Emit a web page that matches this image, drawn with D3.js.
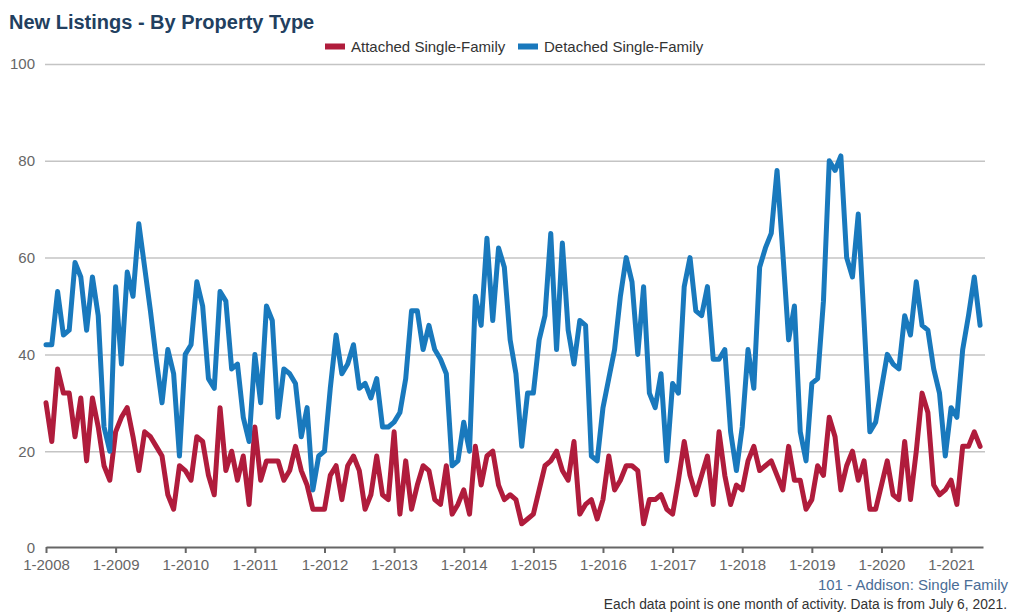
<!DOCTYPE html>
<html lang="en">
<head>
<meta charset="utf-8">
<title>New Listings - By Property Type</title>
<script src="https://d3js.org/d3.v7.min.js"></script>
<style>
body { margin: 0; background: #fff; }
text { font-family: Arial, "Liberation Sans", sans-serif; }
</style>
</head>
<body>
<script>

// monthly values, 1-2008 .. 6-2021
var attached = [
  30,22,37,32,32,23,31,18,31,25,17,14,
  24,27,29,23,16,24,23,21,19,11,8,17,
  16,14,23,22,15,11,29,16,20,14,19,9,
  25,14,18,18,18,14,16,21,16,13,8,8,
  8,15,17,10,17,19,16,8,11,19,11,10,
  24,7,18,8,13,17,16,10,9,17,7,9,
  12,7,21,13,19,20,13,10,11,10,5,6,
  7,12,17,18,20,16,14,22,7,9,10,6,
  10,19,12,14,17,17,16,5,10,10,11,8,
  7,14,22,15,11,15,19,9,24,15,9,13,
  12,18,21,16,17,18,15,12,21,14,14,8,
  10,17,15,27,23,12,17,20,14,18,8,8,
  13,18,11,10,22,10,20,32,28,13,11,12,
  14,9,21,21,24,21
];
var detached = [
  42,42,53,44,45,59,56,45,56,48,25,20,
  54,38,57,52,67,58,49,39,30,41,36,19,
  40,42,55,50,35,33,53,51,37,38,27,22,
  40,30,50,47,27,37,36,34,23,29,12,19,
  20,33,44,36,38,42,33,34,31,35,25,25,
  26,28,35,49,49,41,46,41,39,36,17,18,
  26,20,52,46,64,47,62,58,43,36,21,32,
  32,43,48,65,41,63,45,38,47,46,19,18,
  29,35,41,52,60,55,40,54,32,29,36,18,
  34,32,54,60,49,48,54,39,39,41,24,16,
  25,41,33,58,62,65,78,61,43,50,24,18,
  34,35,51,80,78,81,60,56,69,47,24,26,
  33,40,38,37,48,44,55,46,45,37,32,19,
  29,27,41,48,56,46
];
var tickLabels = ["1-2008","1-2009","1-2010","1-2011","1-2012","1-2013","1-2014",
  "1-2015","1-2016","1-2017","1-2018","1-2019","1-2020","1-2021"];
var yTicks = [0, 20, 40, 60, 80, 100];
var seriesNames = ["Attached Single-Family", "Detached Single-Family"];
var seriesColors = ["#b01c3c", "#1979bd"];

var svg = d3.select("body").append("svg")
  .attr("width", 1014)
  .attr("height", 614)

var x = d3.scaleLinear().domain([0, 161.5]).range([46, 983]);
var y = d3.scaleLinear().domain([0, 100]).range([548, 64]);

/* title */
svg.append("text")
  .attr("x", 9).attr("y", 29)
  .attr("font-size", 20).attr("font-weight", "bold")
  .attr("fill", "#223f5f")
  .text("New Listings - By Property Type");

/* legend */
var legX = [325, 518];
var leg = svg.selectAll("g.leg").data(seriesNames).enter()
  .append("g").attr("class", "leg")
  .attr("transform", function(d, i) { return "translate(" + legX[i] + ",0)"; });
leg.append("rect")
  .attr("x", 0).attr("y", 43.5).attr("width", 20).attr("height", 6)
  .attr("fill", function(d, i) { return seriesColors[i]; });
leg.append("text")
  .attr("x", 26).attr("y", 52)
  .attr("font-size", 15).attr("fill", "#333")
  .text(function(d) { return d; });

/* y grid + labels */
var yAxis = svg.append("g")
  .attr("transform", "translate(45,0)")
  .call(d3.axisLeft(y).tickValues(yTicks).tickSize(-940).tickPadding(10));
yAxis.select(".domain").remove();
yAxis.selectAll(".tick line")
  .attr("stroke", "#c4c4c4").attr("stroke-width", 1.5)
  .filter(function(d) { return d == 0; }).remove();
yAxis.selectAll(".tick text")
  .attr("font-size", 15).attr("fill", "#666")
  .attr("font-family", "Arial, 'Liberation Sans', sans-serif");

/* x axis */
var xAxis = svg.append("g")
  .attr("transform", "translate(0,547)")
  .call(d3.axisBottom(x)
    .tickValues(tickLabels.map(function(d, i) { return i * 12; }))
    .tickFormat(function(d, i) { return tickLabels[i]; })
    .tickSize(6).tickSizeOuter(0).tickPadding(6));
xAxis.select(".domain").attr("stroke", "#666").attr("stroke-width", 2);
xAxis.selectAll(".tick line").attr("stroke", "#666").attr("stroke-width", 2);
xAxis.selectAll(".tick text")
  .attr("font-size", 15).attr("fill", "#666")
  .attr("font-family", "Arial, 'Liberation Sans', sans-serif");

/* lines */
var line = d3.line()
  .x(function(d, i) { return x(i); })
  .y(function(d) { return y(d); });

svg.selectAll("path.series").data([attached, detached]).enter()
  .append("path").attr("class", "series")
  .attr("d", line)
  .attr("fill", "none")
  .attr("stroke", function(d, i) { return seriesColors[i]; })
  .attr("stroke-width", 5)
  .attr("stroke-linejoin", "round")
  .attr("stroke-linecap", "round");

/* footer */
svg.append("text")
  .attr("x", 1008).attr("y", 590)
  .attr("text-anchor", "end")
  .attr("font-size", 15).attr("fill", "#4a6d96")
  .text("101 - Addison: Single Family");
svg.append("text")
  .attr("x", 1007).attr("y", 609)
  .attr("text-anchor", "end")
  .attr("font-size", 13.8).attr("fill", "#333")
  .text("Each data point is one month of activity. Data is from July 6, 2021.");

</script>
</body>
</html>
